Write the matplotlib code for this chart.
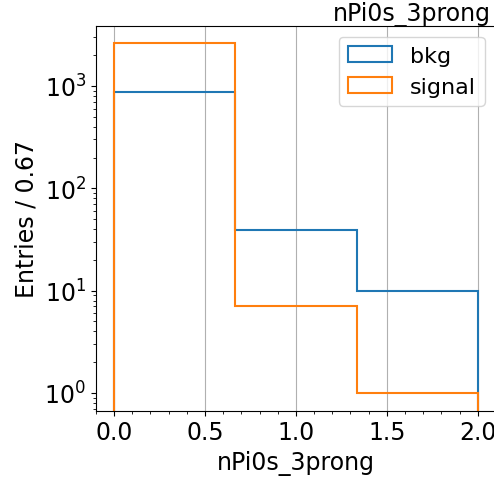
import matplotlib
matplotlib.use("Agg")
import matplotlib.pyplot as plt
import numpy as np

# bin edges and contents
edges = np.array([0.0, 2 / 3, 4 / 3, 2.0])
bkg = np.array([866, 39, 10])
signal = np.array([2610, 7, 1])
centers = 0.5 * (edges[:-1] + edges[1:])

plt.rcParams['font.size'] = 17

fig = plt.figure(figsize=(4.94, 4.89), dpi=100)
ax = fig.add_axes([0.194, 0.158, 0.81, 0.787])

ax.hist(centers, bins=edges, weights=bkg, histtype='step', linewidth=1.5, label='bkg')
ax.hist(centers, bins=edges, weights=signal, histtype='step', linewidth=1.5, label='signal')

ax.set_yscale('log')
ax.set_xlim(-0.1, 2.1)
ax.set_ylim(0.67, 3866)
ax.minorticks_on()
ax.grid(True, axis='x', which='major')
ax.set_xlabel('nPi0s_3prong')
ax.set_ylabel('Entries / 0.67')
ax.set_title('nPi0s_3prong', loc='right', x=0.987, pad=3, fontsize=17)
ax.legend(loc='upper right', fontsize=16)

fig.savefig('out.png', dpi=100)
